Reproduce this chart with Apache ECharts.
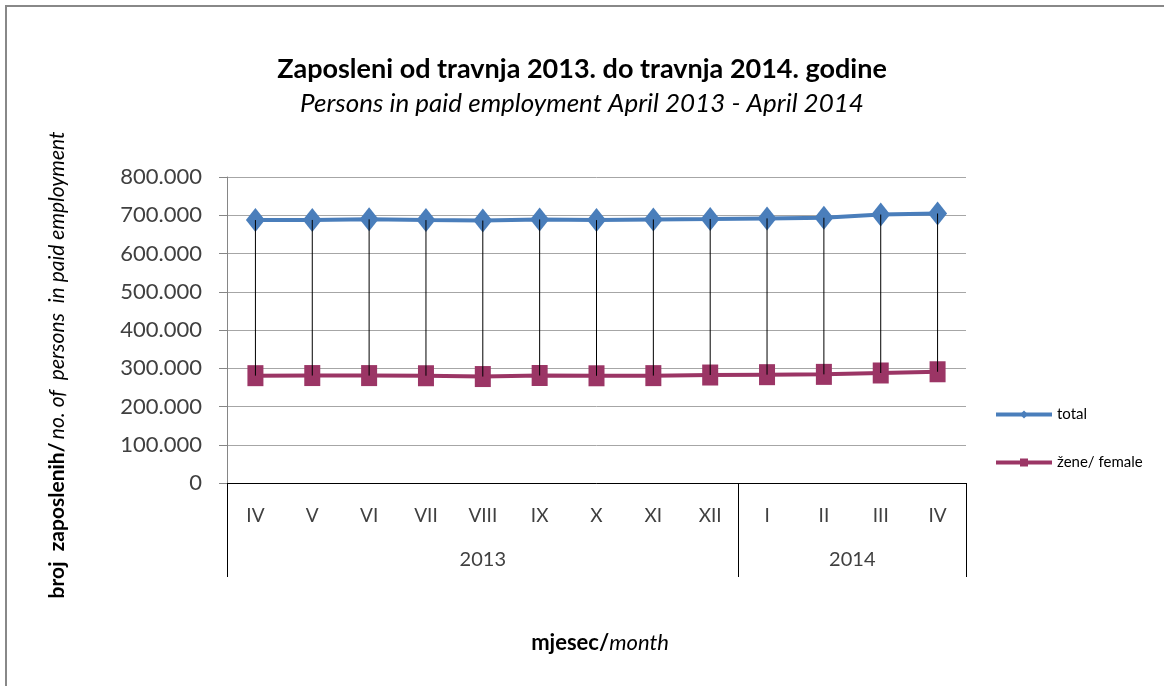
<!DOCTYPE html>
<html>
<head>
<meta charset="utf-8">
<script src="https://cdn.jsdelivr.net/npm/echarts@6/dist/echarts.min.js"></script>
<style>
  html, body { margin: 0; padding: 0; background: #fff; }
  #chart { width: 1164px; height: 686px; }
</style>
</head>
<body>
<div id="chart"></div>
<script>
var months = ['IV', 'V', 'VI', 'VII', 'VIII', 'IX', 'X', 'XI', 'XII', 'I', 'II', 'III', 'IV'];
var years = ['2013', '2014'];
var yearSpans = [9, 4];
var total = [687500, 687700, 689300, 687400, 686200, 689000, 687300, 689100, 690200, 691800, 693400, 701800, 704600];
var female = [280600, 280900, 280800, 280400, 278300, 281000, 280300, 280700, 282300, 283200, 284000, 287600, 290800];

var fontFamily = 'Lato, "Open Sans", sans-serif';

// year group borders and centres on a 0..13 scale
var yearEdges = [0];
var yearMids = [];
yearSpans.forEach(function (s, i) {
  var start = yearEdges[yearEdges.length - 1];
  yearMids.push(start + s / 2);
  yearEdges.push(start + s);
});

var dom = document.getElementById('chart');
var myChart = echarts.init(dom, null, { renderer: 'canvas' });

var option = {
  backgroundColor: '#fff',
  animation: false,
  textStyle: { fontFamily: fontFamily },
  title: {
    text: 'Zaposleni od travnja 2013. do travnja 2014. godine',
    subtext: 'Persons in paid employment April 2013 - April 2014',
    left: 'center',
    top: 51,
    itemGap: 8,
    textStyle: { fontSize: 27, fontWeight: 'bold', color: '#000', fontFamily: fontFamily },
    subtextStyle: { fontSize: 26, fontStyle: 'italic', color: '#000', fontFamily: fontFamily }
  },
  legend: {
    orient: 'vertical',
    left: 989,
    top: 402,
    itemWidth: 56,
    itemHeight: 10,
    itemGap: 33,
    lineStyle: { width: 4 },
    textStyle: { fontSize: 15, color: '#000', fontFamily: fontFamily },
    data: ['total', 'žene/ female']
  },
  grid: { left: 227, right: 198, top: 177, bottom: 203 },
  xAxis: [
    {
      type: 'category',
      data: months,
      boundaryGap: true,
      axisLine: { lineStyle: { color: '#000', width: 1 } },
      axisTick: { show: false },
      axisLabel: { fontSize: 19, color: '#404040', margin: 23 },
      splitLine: { show: false }
    },
    {
      type: 'value',
      min: 0,
      max: 13,
      position: 'bottom',
      axisLine: { show: false },
      axisTick: {
        show: true,
        customValues: yearEdges,
        length: 94,
        lineStyle: { color: '#000', width: 1 }
      },
      axisLabel: {
        customValues: yearMids,
        fontSize: 20,
        color: '#404040',
        margin: 67,
        formatter: function (v) {
          return years[yearMids.indexOf(v)];
        }
      },
      splitLine: { show: false }
    }
  ],
  yAxis: {
    type: 'value',
    min: 0,
    max: 800000,
    interval: 100000,
    axisLine: { show: true, lineStyle: { color: '#868686' } },
    axisTick: { show: true, length: 8, lineStyle: { color: '#868686' } },
    splitLine: { lineStyle: { color: '#a6a6a6' } },
    axisLabel: {
      fontSize: 22,
      color: '#404040',
      margin: 25,
      formatter: function (v) {
        return v === 0 ? '0' : String(v).replace(/\B(?=(\d{3})+(?!\d))/g, '.');
      }
    }
  },
  graphic: [
    {
      type: 'rect',
      shape: { x: 6, y: 6, width: 1170, height: 700 },
      style: { fill: 'none', stroke: '#888', lineWidth: 2 },
      z: -10,
      silent: true
    },
    {
      type: 'text',
      x: 57,
      y: 365,
      rotation: Math.PI / 2,
      style: {
        text: '{b|broj  zaposlenih/} {i|no. of  persons  in paid employment}',
        align: 'center',
        verticalAlign: 'middle',
        rich: {
          b: { fontSize: 21, fontWeight: 'bold', fill: '#000', fontFamily: fontFamily },
          i: { fontSize: 21, fontStyle: 'italic', fill: '#000', fontFamily: fontFamily }
        }
      }
    },
    {
      type: 'text',
      x: 600,
      y: 643,
      style: {
        text: '{b|mjesec/}{i|month}',
        align: 'center',
        verticalAlign: 'middle',
        rich: {
          b: { fontSize: 22, fontWeight: 'bold', fill: '#000', fontFamily: fontFamily },
          i: { fontSize: 22, fontStyle: 'italic', fill: '#000', fontFamily: fontFamily }
        }
      }
    }
  ],
  series: [
    {
      name: 'total',
      type: 'line',
      data: total,
      symbol: 'diamond',
      symbolSize: [19, 24],
      itemStyle: { color: '#4a7ebb' },
      lineStyle: { color: '#4a7ebb', width: 4 },
      z: 3
    },
    {
      name: 'žene/ female',
      type: 'line',
      data: female,
      symbol: 'rect',
      symbolSize: [16, 21],
      itemStyle: { color: '#9b3565' },
      lineStyle: { color: '#9b3565', width: 4 },
      z: 3
    },
    {
      // drop lines between the two series
      type: 'custom',
      silent: true,
      z: 5,
      data: months.map(function (m, i) { return [i, total[i], female[i]]; }),
      encode: { x: 0, y: [1, 2] },
      renderItem: function (params, api) {
        var top = api.coord([api.value(0), api.value(1)]);
        var bottom = api.coord([api.value(0), api.value(2)]);
        return {
          type: 'line',
          shape: { x1: top[0], y1: top[1], x2: bottom[0], y2: bottom[1] },
          style: { stroke: '#000', lineWidth: 1 }
        };
      }
    }
  ]
};

if (option && typeof option === 'object') {
  myChart.setOption(option);
}

window.addEventListener('resize', myChart.resize);
</script>
</body>
</html>
